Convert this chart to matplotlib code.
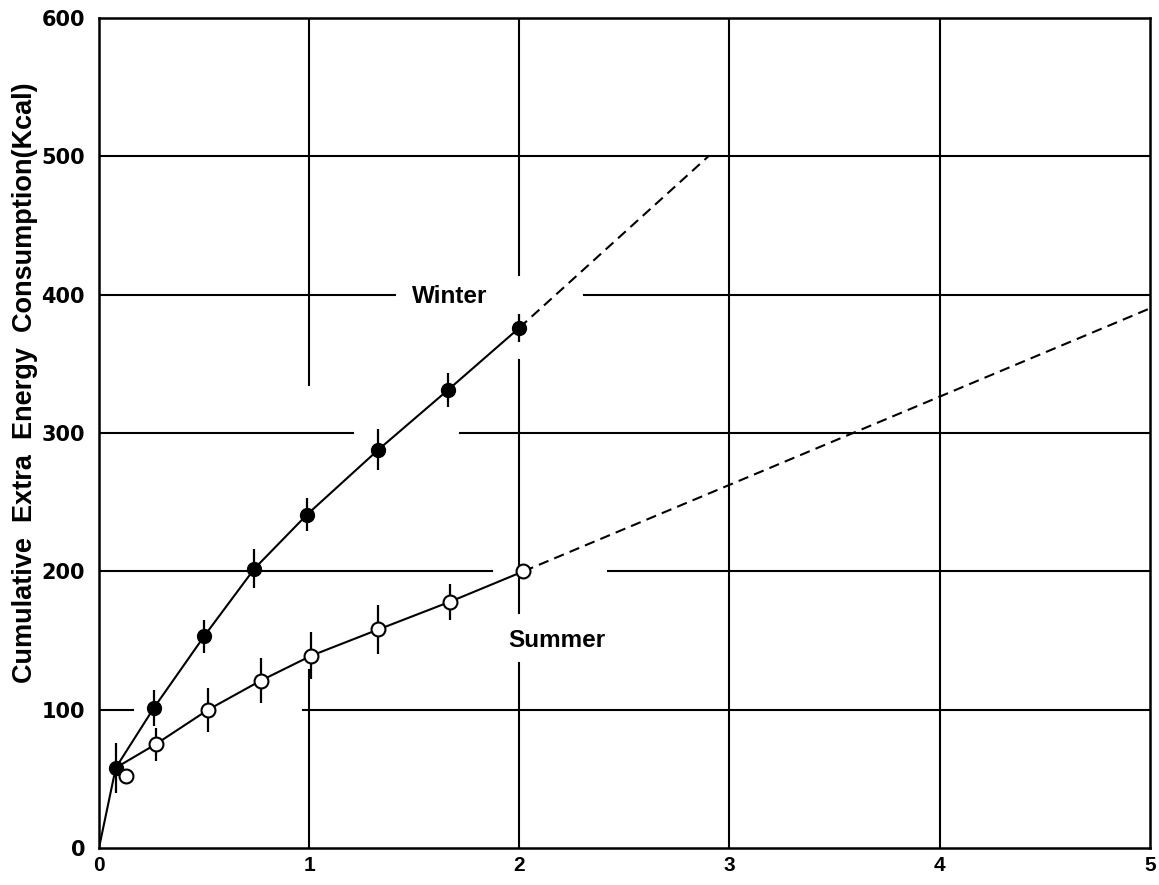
import matplotlib.pyplot as plt

# values (x axis is unlabeled, 0..5)
winter_x = [0.08, 0.26, 0.50, 0.74, 0.99, 1.33, 1.66, 2.00]
winter_y = [58, 101, 153, 202, 241, 288, 331, 376]
winter_err = [18, 13, 12, 14, 12, 15, 12, 10]

summer_x = [0.13, 0.27, 0.52, 0.77, 1.01, 1.33, 1.67, 2.02]
summer_y = [52, 75, 100, 121, 139, 158, 178, 200]
summer_err = [0, 12, 16, 16, 17, 18, 13, 0]

# dashed extrapolations
winter_ext_x = [2.00, 2.90]
winter_ext_y = [376, 500]
summer_ext_x = [2.02, 5.00]
summer_ext_y = [200, 390]

x_ticks = [0, 1, 2, 3, 4, 5]
y_ticks = [0, 100, 200, 300, 400, 500, 600]

# broken grid lines (gaps left around labels/points in the original)
h_grid = {
    100: [(0, 0.16), (0.97, 5)],
    200: [(0, 1.87), (2.42, 5)],
    300: [(0, 1.21), (1.72, 5)],
    400: [(0, 1.41), (2.31, 5)],
    500: [(0, 5)],
}
v_grid = {
    1: [(0, 129), (335, 600)],
    2: [(0, 134), (170, 353), (414, 600)],
    3: [(0, 600)],
    4: [(0, 600)],
}

sans = ["Liberation Sans", "DejaVu Sans"]

fig = plt.figure(figsize=(11.59, 8.85), dpi=100)
ax = fig.add_axes([0.0854, 0.0418, 0.9066, 0.9379])

for y, segs in h_grid.items():
    for x0, x1 in segs:
        ax.plot([x0, x1], [y, y], color="black", lw=1.5, zorder=1)
for x, segs in v_grid.items():
    for y0, y1 in segs:
        ax.plot([x, x], [y0, y1], color="black", lw=1.5, zorder=1)

# winter (filled)
ax.plot([0] + winter_x, [0] + winter_y, color="black", lw=1.5, zorder=2)
ax.errorbar(winter_x, winter_y, yerr=winter_err, fmt="o", color="black",
            ms=10, ecolor="black", elinewidth=1.6, capsize=0, zorder=3)
ax.plot(winter_ext_x, winter_ext_y, color="black", lw=1.5, ls=(0, (5, 3)), zorder=2)

# summer (open)
ax.plot([winter_x[0]] + summer_x[1:], [winter_y[0]] + summer_y[1:],
        color="black", lw=1.5, zorder=2)
ax.errorbar(summer_x, summer_y, yerr=summer_err, fmt="o", color="black",
            mfc="white", mec="black", mew=1.5, ms=10, ecolor="black",
            elinewidth=1.6, capsize=0, zorder=3)
ax.plot(summer_ext_x, summer_ext_y, color="black", lw=1.5, ls=(0, (5, 3)), zorder=2)

ax.text(1.67, 399, "Winter", ha="center", va="center", fontsize=17.5,
        fontweight="bold", family=sans)
ax.text(2.18, 150, "Summer", ha="center", va="center", fontsize=17.5,
        fontweight="bold", family=sans)

ax.set_xlim(0, 5)
ax.set_ylim(0, 600)
ax.set_xticks(x_ticks)
ax.set_yticks(y_ticks)
ax.tick_params(axis="y", length=0, pad=10)
ax.tick_params(axis="x", length=0, pad=6)
for lab in ax.get_yticklabels():
    lab.set_fontsize(15)
    lab.set_fontweight("bold")
    lab.set_family(["DejaVu Sans"])
for lab in ax.get_xticklabels():
    lab.set_fontsize(15)
    lab.set_fontweight("bold")
    lab.set_family(sans)
for s in ax.spines.values():
    s.set_linewidth(1.8)

fig.text(0.022, 0.568, "Cumulative  Extra  Energy  Consumption(Kcal)",
         rotation=90, ha="center", va="center", fontsize=19.5,
         fontweight="bold", family=sans)

fig.savefig("out.png", dpi=100)
